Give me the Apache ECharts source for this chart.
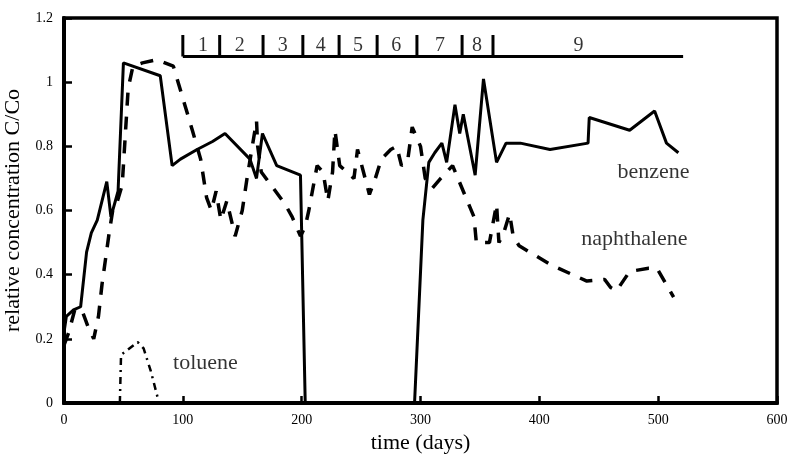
<!DOCTYPE html>
<html>
<head>
<meta charset="utf-8">
<script src="https://cdn.jsdelivr.net/npm/echarts@6/dist/echarts.min.js"></script>
<style>
  html, body { margin: 0; padding: 0; background: #fff; }
  #chart { width: 790px; height: 456px; }
</style>
</head>
<body>
<div id="chart"></div>
<script>
const chart = echarts.init(document.getElementById('chart'));
const serif = 'Liberation Serif';

// curves, [days, C/Co]
const benzene = [[0,0.22],[2,0.27],[8,0.29],[14,0.3],[19,0.47],[23,0.53],[28,0.57],[36,0.69],[39.5,0.58],[45.5,0.66],[50,1.06],[81,1.02],[91,0.74],[98,0.76],[112,0.79],[125,0.815],[135.5,0.84],[156.5,0.76],[162,0.7],[167,0.84],[179,0.74],[199,0.71],[203,0],[295,0],[302,0.57],[307,0.75],[312,0.78],[318,0.81],[322,0.75],[329,0.93],[333,0.84],[336,0.9],[346,0.71],[353,1.01],[364,0.75],[372,0.81],[384,0.81],[409,0.79],[441,0.81],[442,0.89],[476,0.85],[497,0.91],[507,0.81],[517,0.78]];

const naphthalene = [[0,0.18],[4,0.22],[9,0.29],[15,0.29],[20,0.24],[25,0.2],[29,0.27],[32,0.37],[35,0.45],[38,0.53],[41,0.6],[45,0.63],[49,0.68],[54,0.98],[58,1.05],[66,1.06],[78,1.07],[92,1.05],[100,0.95],[108,0.85],[115,0.76],[120,0.64],[124,0.6],[128,0.66],[132,0.57],[137,0.63],[144,0.52],[150,0.6],[154,0.7],[162,0.88],[163,0.8],[166,0.72],[176,0.67],[186,0.62],[192,0.58],[199,0.52],[203,0.55],[206,0.6],[209,0.66],[213,0.74],[218,0.72],[222,0.63],[226,0.72],[228,0.85],[232,0.74],[238,0.72],[244,0.7],[247,0.79],[252,0.72],[257,0.65],[262,0.7],[267,0.76],[275,0.79],[280,0.8],[284,0.74],[289,0.75],[293,0.86],[300,0.8],[304,0.7],[310,0.67],[317,0.7],[327,0.74],[336,0.66],[345,0.58],[347,0.5],[358,0.5],[361,0.56],[364,0.62],[366,0.5],[370,0.53],[375,0.59],[378,0.52],[383,0.49],[392,0.47],[410,0.43],[440,0.38],[455,0.385],[460,0.36],[465,0.35],[476,0.41],[492,0.42],[499,0.42],[513,0.33]];

const toluene = [[47,0],[48,0.15],[55,0.17],[62,0.19],[67,0.17],[73,0.1],[80,0]];

// numbered periods along the top
const periodBounds = [100,131,167.5,201,231.5,263.5,297,335,361];
const periodEnd = 521;
const periodNames = ['1','2','3','4','5','6','7','8','9'];
const periodLabelX = [117,148,184,216,247.5,279.5,316.5,347.6,433];

const curveNames = ['benzene','naphthalene','toluene'];
const curveLabelAt = [[496,0.72],[480,0.51],[119,0.125]];

const barY = 1.08, tickTop = 1.147, periodLabelY = 1.113;

chart.setOption({
  animation: false,
  backgroundColor: '#fff',
  grid: { left: 64, right: 13, top: 18, bottom: 53, show: true, borderColor: '#000', borderWidth: 3.5,
          outerBoundsMode: 'none', containLabel: false },
  xAxis: {
    type: 'value', min: 0, max: 600, interval: 100,
    name: 'time (days)', nameLocation: 'middle', nameGap: 21,
    nameTextStyle: { fontFamily: serif, fontSize: 22, color: '#000' },
    axisLine: { show: true, lineStyle: { color: '#000', width: 4 } },
    axisTick: { show: true, inside: true, length: 7, lineStyle: { color: '#000', width: 2.5 } },
    axisLabel: { fontFamily: serif, fontSize: 14, color: '#000', margin: 10 },
    splitLine: { show: false }
  },
  yAxis: {
    type: 'value', min: 0, max: 1.2, interval: 0.2,
    name: 'relative concentration C/Co', nameLocation: 'middle', nameGap: 29,
    nameTextStyle: { fontFamily: serif, fontSize: 22, color: '#000' },
    axisLine: { show: true, lineStyle: { color: '#000', width: 4 } },
    axisTick: { show: true, inside: true, length: 8, lineStyle: { color: '#000', width: 2.5 } },
    axisLabel: { fontFamily: serif, fontSize: 14, color: '#000', margin: 11 },
    splitLine: { show: false }
  },
  series: [
    {
      type: 'line', data: benzene, symbol: 'none',
      lineStyle: { color: '#000', width: 3 }
    },
    {
      type: 'line', data: naphthalene, symbol: 'none',
      lineStyle: { color: '#000', width: 3.5, type: [13, 11] }
    },
    {
      type: 'line', data: toluene, symbol: 'none',
      lineStyle: { color: '#000', width: 2.5, type: [7, 5, 2, 5] }
    },
    // period bar
    {
      type: 'line', data: [[periodBounds[0], barY], [periodEnd, barY]], symbol: 'none',
      lineStyle: { color: '#000', width: 3 }
    },
    {
      type: 'custom',
      data: periodBounds.map(x => [x]),
      renderItem: (params, api) => {
        const a = api.coord([api.value(0), barY]);
        const b = api.coord([api.value(0), tickTop]);
        return { type: 'line', shape: { x1: a[0], y1: a[1], x2: b[0], y2: b[1] },
                 style: { stroke: '#000', lineWidth: 3 } };
      }
    },
    {
      type: 'scatter', symbolSize: 0,
      data: periodNames.map((n, i) => ({ value: [periodLabelX[i], periodLabelY], name: n })),
      label: { show: true, position: 'inside', formatter: '{b}', fontFamily: serif, fontSize: 20, color: '#000' }
    },
    {
      type: 'scatter', symbolSize: 0,
      data: curveNames.map((n, i) => ({ value: curveLabelAt[i], name: n })),
      label: { show: true, position: 'inside', formatter: '{b}', fontFamily: serif, fontSize: 22, color: '#000' }
    }
  ]
});
</script>
</body>
</html>
